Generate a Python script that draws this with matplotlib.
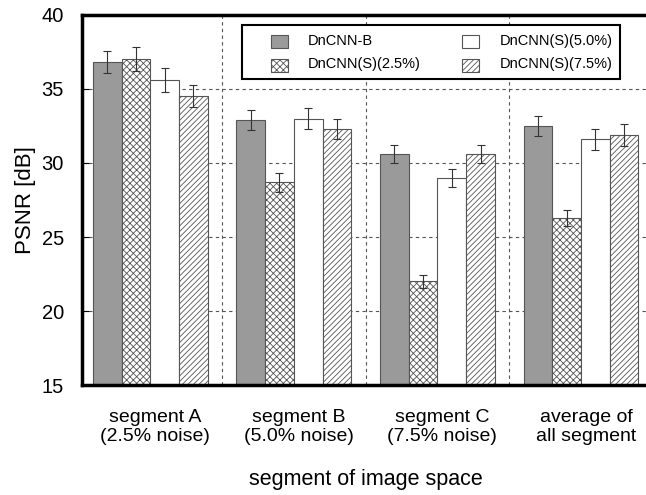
import numpy as np
import matplotlib.pyplot as plt
import matplotlib.transforms as mtransforms
from matplotlib.patches import Rectangle
from matplotlib.legend_handler import HandlerPatch

plt.rcParams['font.family'] = ['Liberation Sans', 'DejaVu Sans']
plt.rcParams['hatch.linewidth'] = 0.6

# data
groups = ['segment A\n(2.5% noise)', 'segment B\n(5.0% noise)',
          'segment C\n(7.5% noise)', 'average of\nall segment']
names = ['DnCNN-B', 'DnCNN(S)(2.5%)', 'DnCNN(S)(5.0%)', 'DnCNN(S)(7.5%)']
dncnn_b = [36.8, 32.9, 30.6, 32.5]
dncnn_25 = [37.0, 28.7, 22.0, 26.3]
dncnn_50 = [35.6, 33.0, 29.0, 31.6]
dncnn_75 = [34.5, 32.3, 30.6, 31.9]
err_b = [0.75, 0.7, 0.62, 0.68]
err_25 = [0.8, 0.65, 0.45, 0.55]
err_50 = [0.78, 0.7, 0.62, 0.7]
err_75 = [0.74, 0.7, 0.6, 0.75]

series = [dncnn_b, dncnn_25, dncnn_50, dncnn_75]
errs = [err_b, err_25, err_50, err_75]
fills = ['#9a9a9a', 'white', 'white', 'white']
hatches = [None, 'xxxxx', None, '//////']

fig = plt.figure(figsize=(6.46, 4.95), dpi=100)
ax = fig.add_axes([0.127, 0.222, 0.878, 0.748])

x = np.arange(len(groups))
w = 0.2
handles = []
for i in range(4):
    bars = ax.bar(x + (i - 1.5) * w, series[i], w, bottom=0, color=fills[i],
                  hatch=hatches[i], edgecolor='#555555', linewidth=0.8,
                  label=names[i], zorder=2)
    handles.append(bars.patches[0])
    ax.errorbar(x + (i - 1.5) * w, series[i], yerr=errs[i], fmt='none',
                ecolor='#333333', elinewidth=0.8, capsize=3, capthick=0.8,
                zorder=3)

ax.set_ylim(15, 40)
ax.set_xlim(-0.475, 3.475)
ax.set_yticks([15, 20, 25, 30, 35, 40])
ax.set_xticks(x)
ax.set_xticklabels(groups, fontsize=14)
ax.set_xticks([0.5, 1.5, 2.5], minor=True)
ax.tick_params(axis='x', which='both', length=0, pad=17)
ax.tick_params(axis='y', direction='in', length=5, labelsize=14.5, pad=13)
shift = mtransforms.ScaledTranslation(5 / 100, 0, fig.dpi_scale_trans)
for lab in ax.get_xticklabels():
    lab.set_transform(lab.get_transform() + shift)
ax.grid(axis='y', which='major', linestyle=(0, (3, 3)), color='#555555',
        linewidth=0.8, zorder=0)
ax.grid(axis='x', which='minor', linestyle=(0, (3, 3)), color='#555555',
        linewidth=0.8, zorder=0)
ax.set_axisbelow(True)
for s in ax.spines.values():
    s.set_linewidth(2.5)

ax.set_ylabel('PSNR [dB]', fontsize=16, labelpad=4)
ax.set_xlabel('segment of image space', fontsize=15.5, labelpad=17)


# small square swatch on the right side of a wider handle box
def swatch(legend, orig_handle, xdescent, ydescent, width, height, fontsize):
    side = 12.2
    return Rectangle((-xdescent + width - side, -ydescent - 1.5), side, height)


leg = ax.legend(handles, names, ncol=2, loc='upper right',
                bbox_to_anchor=(0.949, 0.972), borderaxespad=0,
                fontsize=10.5, frameon=True, fancybox=False, framealpha=1,
                edgecolor='black', handlelength=2.54, handleheight=0.95,
                columnspacing=1.5, handletextpad=1.37, borderpad=0.55,
                labelspacing=0.65,
                handler_map={Rectangle: HandlerPatch(patch_func=swatch)})
leg.get_frame().set_linewidth(1.5)

fig.savefig('out.png', dpi=100)
